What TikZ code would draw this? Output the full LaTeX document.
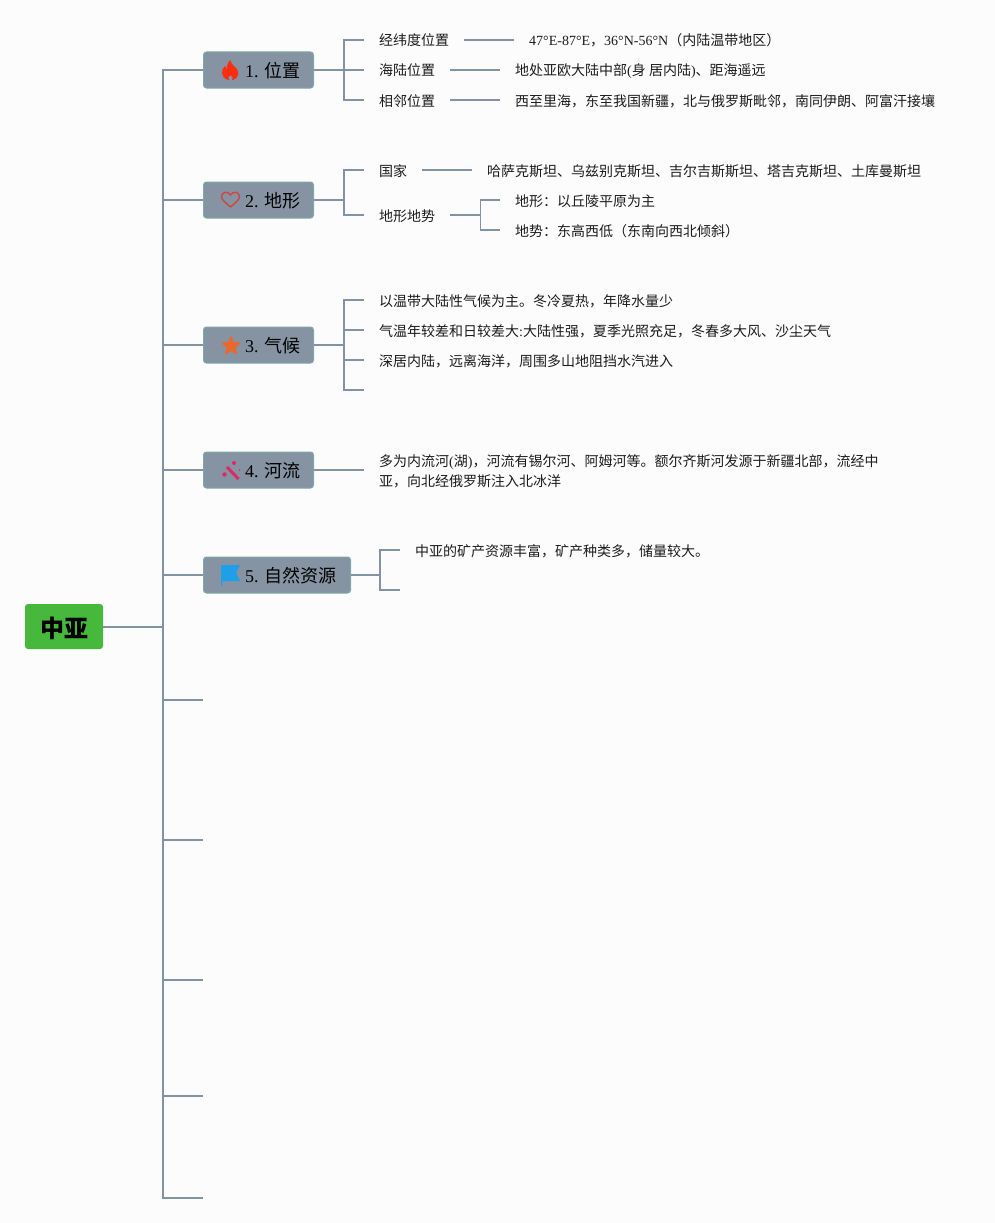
\documentclass[tikz,border=0pt]{standalone}
\usepackage{fontspec}
\setmainfont{Liberation Serif}
\newfontfamily\zhfont{Noto Sans CJK SC}
\newcommand{\zh}[1]{{\zhfont #1}}
\definecolor{bgc}{HTML}{FCFCFC}
\definecolor{linec}{HTML}{8492A6}
\definecolor{boxc}{HTML}{8593A3}
\definecolor{boxb}{HTML}{7FA8A6}
\definecolor{rootc}{HTML}{46B83C}
\definecolor{txt}{HTML}{1C1C1C}
\definecolor{flamec}{HTML}{FF2D10}
\definecolor{heartc}{HTML}{D0463C}
\definecolor{starc}{HTML}{E8692F}
\definecolor{wandc}{HTML}{DB2A64}
\definecolor{flagc}{HTML}{1E9FE8}
\tikzset{
  link/.style={draw=linec,line width=1.8pt,line join=miter},
  fork/.style={to path={-- ++(#1,0) |- (\tikztotarget)}},
  rootbox/.style={draw=none,fill=rootc,rounded corners=3pt,minimum width=78pt,minimum height=45pt,inner sep=0pt,text height=21pt,text depth=0pt,font=\fontsize{24}{24}\selectfont\zhfont\bfseries,text=black},
  topic/.style={draw=boxb,line width=1pt,fill=boxc,rounded corners=3pt,minimum height=36pt,inner sep=0pt,text height=15pt,text depth=0pt,anchor=west,font=\fontsize{18}{18}\selectfont\frenchspacing,text=black},
  leaf/.style={anchor=west,inner ysep=0pt,inner xsep=15pt,text height=13pt,text depth=1pt,font=\fontsize{14}{20}\selectfont,text=txt},
  para/.style={anchor=west,inner ysep=0pt,inner xsep=15pt,align=left,font=\fontsize{14}{20}\selectfont,text=txt},
}
\begin{document}
\begin{tikzpicture}[x=1pt,y=-1pt]
\useasboundingbox (0,0) rectangle (995,1223);
\fill[bgc] (0,0) rectangle (995,1223);
% root and topics
\node[rootbox] (root) at (64,626.5) {中亚};
\node[topic,minimum width=110pt,text width=110pt] (t1) at (203,70) {\hspace*{41.5pt}1. \zh{位置}};
\node[topic,minimum width=110pt,text width=110pt] (t2) at (203,200) {\hspace*{41.5pt}2. \zh{地形}};
\node[topic,minimum width=110pt,text width=110pt] (t3) at (203,345) {\hspace*{41.5pt}3. \zh{气候}};
\node[topic,minimum width=110pt,text width=110pt] (t4) at (203,470) {\hspace*{41.5pt}4. \zh{河流}};
\node[topic,minimum width=147pt,text width=147pt] (t5) at (203,575) {\hspace*{41.5pt}5. \zh{自然资源}};
\coordinate (rootout) at (103,627);
\coordinate (e6) at (203,700);
\coordinate (e7) at (203,840);
\coordinate (e8) at (203,980);
\coordinate (e9) at (203,1096);
\coordinate (e10) at (203,1198);
% leaves
\node[leaf] (a1) at (364,40) {\zh{经纬度位置}};
\node[leaf] (a2) at (364,70) {\zh{海陆位置}};
\node[leaf] (a3) at (364,100) {\zh{相邻位置}};
\node[leaf] (a1x) at (514,40) {47°E-87°E\zh{，}36°N-56°N\zh{（内陆温带地区）}};
\node[leaf] (a2x) at (500,70) {\zh{地处亚欧大陆中部}(\zh{身 居内陆})\zh{、距海遥远}};
\node[leaf] (a3x) at (500,100) {\zh{西至里海，东至我国新疆，北与俄罗斯毗邻，南同伊朗、阿富汗接壤}};
\node[leaf] (b1) at (364,170) {\zh{国家}};
\node[leaf] (b2) at (364,215) {\zh{地形地势}};
\node[leaf] (b1x) at (472,170) {\zh{哈萨克斯坦、乌兹别克斯坦、吉尔吉斯斯坦、塔吉克斯坦、土库曼斯坦}};
\node[leaf] (b2x) at (500,200) {\zh{地形：以丘陵平原为主}};
\node[leaf] (b2y) at (500,230) {\zh{地势：东高西低（东南向西北倾斜）}};
\node[leaf] (c1) at (364,300) {\zh{以温带大陆性气候为主。冬冷夏热，年降水量少}};
\node[leaf] (c2) at (364,330) {\zh{气温年较差和日较差大}:\zh{大陆性强，夏季光照充足，冬春多大风、沙尘天气}};
\node[leaf] (c3) at (364,360) {\zh{深居内陆，远离海洋，周围多山地阻挡水汽进入}};
\coordinate (c4) at (364,390);
\node[para] (d1) at (364,471) {\zh{多为内流河}(\zh{湖})\zh{，河流有锡尔河、阿姆河等。额尔齐斯河发源于新疆北部，流经中}\\\zh{亚，向北经俄罗斯注入北冰洋}};
\coordinate (d0) at (364,470);
\node[leaf] (f1) at (400,550) {\zh{中亚的矿产资源丰富，矿产种类多，储量较大。}};
\coordinate (f2) at (400,590);
% connectors
\foreach \n in {t1,t2,t3,t4,t5,e6,e7,e8,e9,e10}
  \draw[link] (rootout) to[fork=60] (\n.west);
\foreach \n in {a1,a2,a3}
  \draw[link] (t1.east) to[fork=30] (\n.west);
\draw[link] (a1.east) -- (a1x.west);
\draw[link] (a2.east) -- (a2x.west);
\draw[link] (a3.east) -- (a3x.west);
\foreach \n in {b1,b2}
  \draw[link] (t2.east) to[fork=30] (\n.west);
\draw[link] (b1.east) -- (b1x.west);
\foreach \n in {b2x,b2y}
  \draw[link] (b2.east) to[fork=30] (\n.west);
\foreach \n in {c1,c2,c3}
  \draw[link] (t3.east) to[fork=30] (\n.west);
\draw[link] (t3.east) to[fork=30] (c4);
\draw[link] (t4.east) -- (d0);
\draw[link] (t5.east) to[fork=29] (f1.west);
\draw[link] (t5.east) to[fork=29] (f2);
% icons
\fill[flamec] (230.5,60) .. controls (231,65) and (235,66) .. (237.5,70)
  .. controls (240,75) and (236,80) .. (232,80)
  .. controls (233.5,78) and (232.5,76.5) .. (230.5,75)
  .. controls (228.5,76.5) and (227.5,78) .. (229,80)
  .. controls (225,80) and (220.5,75) .. (222.5,69.5)
  .. controls (223,68) and (224,67) .. (225,66)
  .. controls (225.5,67.5) and (226,68.5) .. (227,69)
  .. controls (226.5,66) and (228,62) .. (230.5,60) -- cycle;
\draw[draw=heartc,line width=1.4pt,line join=round] (230.5,207)
  .. controls (226,203) and (221.5,200) .. (221.5,196.5)
  .. controls (221.5,192) and (228,190.5) .. (230.5,195)
  .. controls (233,190.5) and (239.5,192) .. (239.5,196.5)
  .. controls (239.5,200) and (235,203) .. (230.5,207) -- cycle;
\fill[starc,draw=starc,line width=1pt,line join=round] (231,336.5) -- (233.5,342.5) -- (240,343) -- (235,347.5) -- (236.7,354) -- (231,350.5) -- (225.3,354) -- (227,347.5) -- (222,343) -- (228.5,342.5) -- cycle;
\draw[draw=wandc,line width=3pt] (227,467) -- (238.5,479);
\fill[wandc] (234,463) circle (2pt) (224.5,474.5) circle (2.2pt) (239.5,470) circle (0.9pt);
\fill[flagc] (221,565) -- (240,565) -- (236,572.5) -- (240,581) -- (222,581) -- (222,586) -- (221,586) -- cycle;
\end{tikzpicture}
\end{document}
